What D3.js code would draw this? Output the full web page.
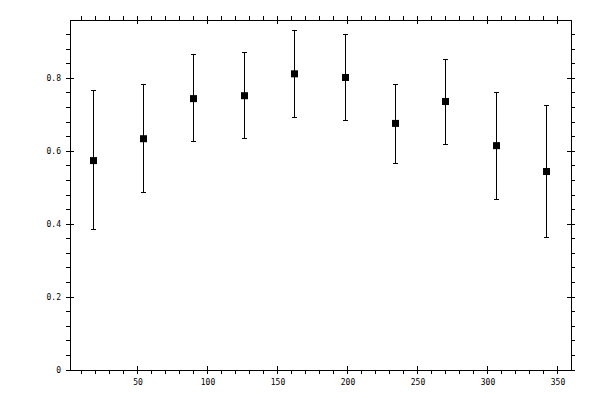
<!DOCTYPE html>
<html>
<head>
<meta charset="utf-8">
<script src="https://cdn.jsdelivr.net/npm/d3@7"></script>
<style>
  body { margin: 0; background: #fff; }
  svg { display: block; }
  .axis text { font-family: "DejaVu Sans Mono", monospace; font-size: 8px; fill: #000; }
  .axis path, .axis line { stroke: #000; stroke-width: 1; shape-rendering: crispEdges; }
</style>
</head>
<body>
<div id="chart"></div>
<script>
const xs    = [18, 54, 90, 126, 162, 198, 234, 270, 306, 342];
const means = [0.573, 0.633, 0.743, 0.751, 0.811, 0.801, 0.675, 0.735, 0.614, 0.543];
const highs = [0.765, 0.781, 0.864, 0.869, 0.930, 0.918, 0.782, 0.850, 0.760, 0.724];
const lows  = [0.384, 0.485, 0.626, 0.633, 0.691, 0.684, 0.565, 0.617, 0.467, 0.363];

const xMajor = [50, 100, 150, 200, 250, 300, 350];
const xMinor = [10, 20, 30, 40, 60, 70, 80, 90, 110, 120, 130, 140, 160, 170, 180, 190,
                210, 220, 230, 240, 260, 270, 280, 290, 310, 320, 330, 340];
const yMajor = [0, 0.2, 0.4, 0.6, 0.8];
const yMinor = [0.04, 0.08, 0.12, 0.16, 0.24, 0.28, 0.32, 0.36, 0.44, 0.48, 0.52, 0.56,
                0.64, 0.68, 0.72, 0.76, 0.84, 0.88, 0.92];

const width = 600, height = 400;
const margin = {left: 69.5, right: 570.5, top: 19.5, bottom: 369.5};
const tick = 4, boxSize = 7, cap = 2.5;

const svg = d3.select("#chart").append("svg")
    .attr("width", width)
    .attr("height", height);

const x = d3.scaleLinear().domain([1.43, 359.3]).range([margin.left, margin.right]);
const y = d3.scaleLinear().domain([0, 0.96]).range([margin.bottom, margin.top]);

// make major ticks cross the axis line
const crossX = g => g.selectAll(".tick line").attr("y1", -tick).attr("y2", tick);
const crossY = g => g.selectAll(".tick line").attr("x1", -tick).attr("x2", tick);

//Minor ticks (outside only)
svg.append("g").attr("class", "axis").attr("transform", `translate(0,${margin.bottom})`)
    .call(d3.axisBottom(x).tickValues(xMinor).tickSize(tick).tickFormat("").tickSizeOuter(0));
svg.append("g").attr("class", "axis").attr("transform", `translate(0,${margin.top})`)
    .call(d3.axisTop(x).tickValues(xMinor).tickSize(tick).tickFormat("").tickSizeOuter(0));
svg.append("g").attr("class", "axis").attr("transform", `translate(${margin.left},0)`)
    .call(d3.axisLeft(y).tickValues(yMinor).tickSize(tick).tickFormat("").tickSizeOuter(0));
svg.append("g").attr("class", "axis").attr("transform", `translate(${margin.right},0)`)
    .call(d3.axisRight(y).tickValues(yMinor).tickSize(tick).tickFormat("").tickSizeOuter(0));

//Major ticks with labels on bottom and left
svg.append("g").attr("class", "axis").attr("transform", `translate(0,${margin.bottom})`)
    .call(d3.axisBottom(x).tickValues(xMajor).tickSize(tick).tickPadding(5.5).tickSizeOuter(0))
    .call(crossX);
svg.append("g").attr("class", "axis").attr("transform", `translate(0,${margin.top})`)
    .call(d3.axisTop(x).tickValues(xMajor).tickSize(tick).tickFormat("").tickSizeOuter(0))
    .call(crossX);
svg.append("g").attr("class", "axis").attr("transform", `translate(${margin.left},0)`)
    .call(d3.axisLeft(y).tickValues(yMajor).tickSize(tick).tickPadding(4.5).tickFormat(d3.format("~g")).tickSizeOuter(0))
    .call(crossY);
svg.append("g").attr("class", "axis").attr("transform", `translate(${margin.right},0)`)
    .call(d3.axisRight(y).tickValues(yMajor).tickSize(tick).tickFormat("").tickSizeOuter(0))
    .call(crossY);

//Error bars
const data = xs.map((v, i) => ({x: v, m: means[i], hi: highs[i], lo: lows[i]}));
const px = d => Math.round(x(d.x)) + 0.5;
const bars = svg.append("g").attr("stroke", "#000").attr("stroke-width", 1)
    .attr("shape-rendering", "crispEdges");

bars.selectAll(".stem").data(data).enter().append("line")
    .attr("x1", px).attr("x2", px)
    .attr("y1", d => y(d.hi)).attr("y2", d => y(d.lo));
bars.selectAll(".capHi").data(data).enter().append("line")
    .attr("x1", d => px(d) - cap).attr("x2", d => px(d) + cap)
    .attr("y1", d => y(d.hi)).attr("y2", d => y(d.hi));
bars.selectAll(".capLo").data(data).enter().append("line")
    .attr("x1", d => px(d) - cap).attr("x2", d => px(d) + cap)
    .attr("y1", d => y(d.lo)).attr("y2", d => y(d.lo));

//Square markers
svg.append("g").selectAll("rect").data(data).enter().append("rect")
    .attr("x", d => px(d) - boxSize / 2)
    .attr("y", d => y(d.m) - boxSize / 2)
    .attr("width", boxSize)
    .attr("height", boxSize)
    .attr("fill", "#000");
</script>
</body>
</html>
